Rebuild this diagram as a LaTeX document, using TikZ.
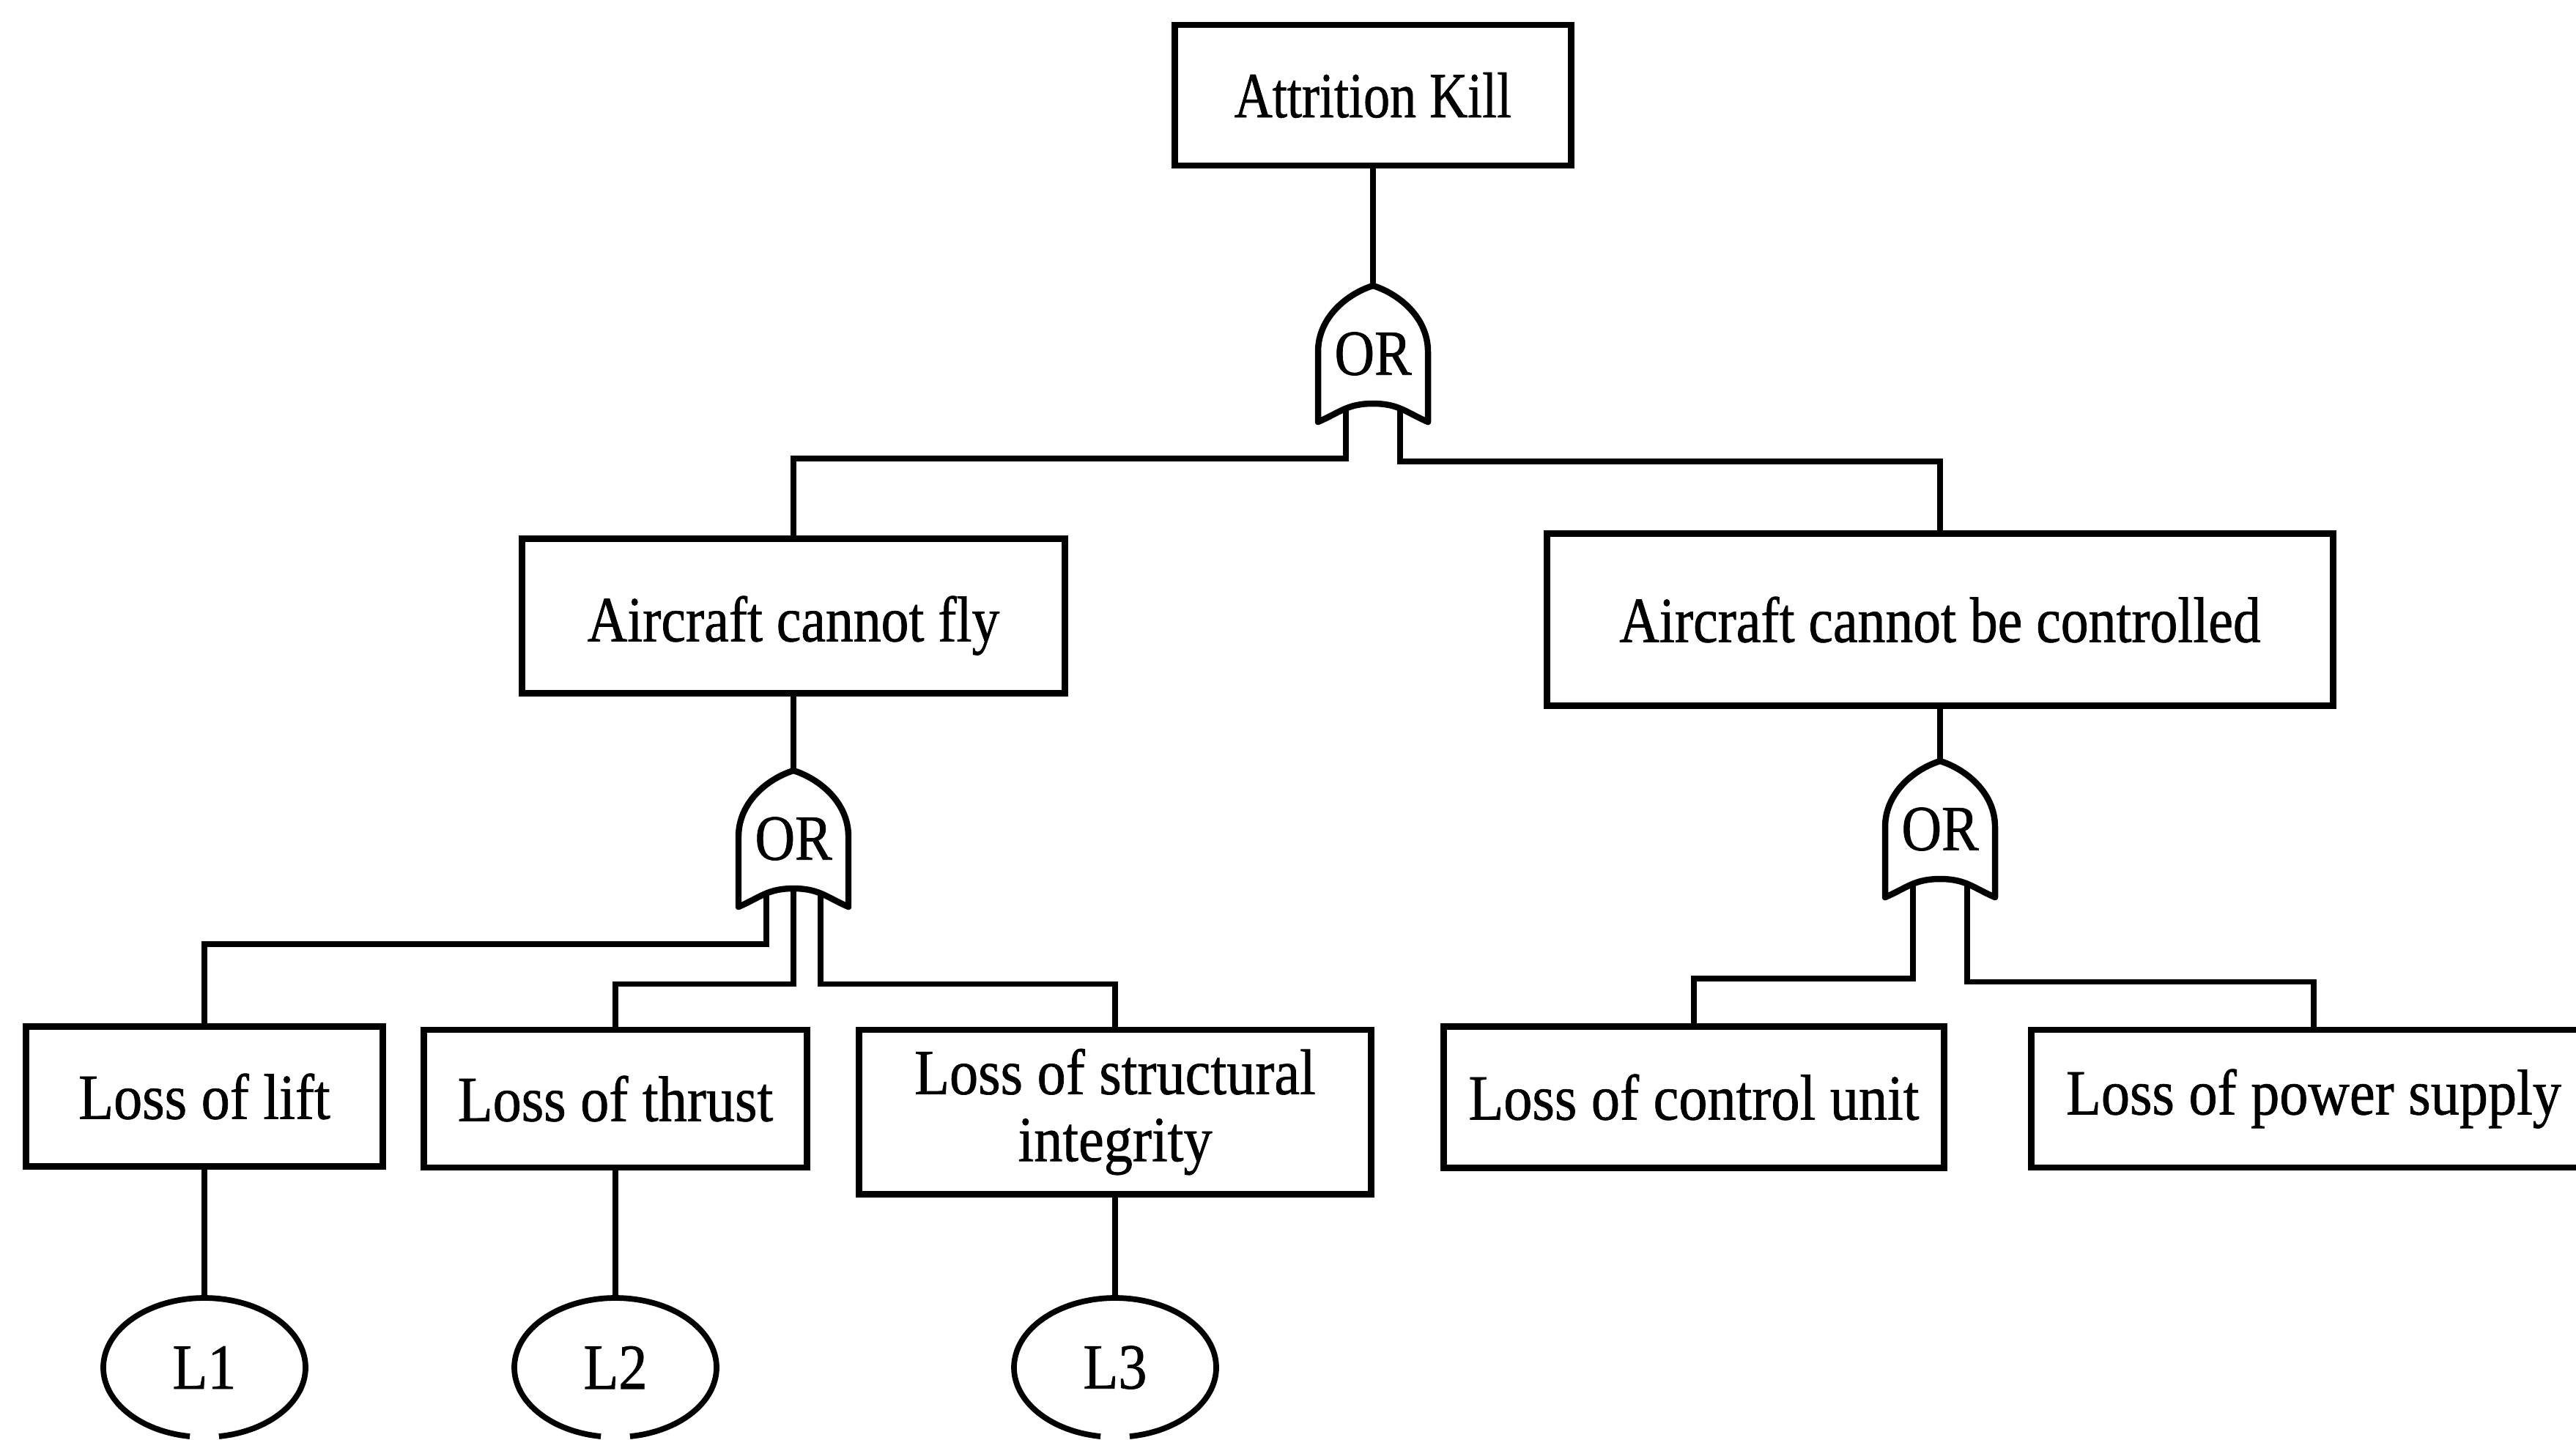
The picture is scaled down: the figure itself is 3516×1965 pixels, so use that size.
\documentclass[tikz,border=0pt]{standalone}
\usepackage{fontspec}
\newfontfamily\gfont[FakeStretch=0.86,FakeBold=0.8]{Liberation Serif}
\newfontfamily\gfontn[FakeStretch=0.82,FakeBold=0.8]{Liberation Serif}
\newfontfamily\gfontw[FakeStretch=0.89,FakeBold=0.8]{Liberation Serif}
\usetikzlibrary{shapes.geometric,calc}
\tikzset{
  lbl/.style={font=\gfont\fontsize{25}{26}\selectfont, align=center, inner sep=0pt},
  lblw/.style={font=\gfontw\fontsize{25}{26}\selectfont},
  evbox/.style={lbl, draw, line width=2.5pt, rectangle},
  gatenode/.style={lbl, rectangle, minimum width=1.5cm, minimum height=1.86cm},
  leafnode/.style={lbl, ellipse, minimum width=2.76cm, minimum height=1.9cm},
  conn/.style={line width=2.2pt},
  gateline/.style={line width=2.4pt, line join=round},
}
\newcommand\orgate[1]{%
  \begin{scope}[shift={(#1.center)}]
    \draw[gateline] (-75,93) -- (-75,-3)
      .. controls (-75,-50) and (-35,-82) .. (0,-93)
      .. controls (35,-82) and (75,-50) .. (75,-3)
      -- (75,93)
      .. controls (45,80) and (35,68) .. (0,68)
      .. controls (-35,68) and (-45,80) .. cycle;
  \end{scope}}
\newcommand\leafring[1]{%
  \draw[conn] ($(#1)+(98.3:138 and 95)$) arc[start angle=98.3, end angle=441.7, x radius=138, y radius=95];}
\begin{document}
\begin{tikzpicture}[x=0.01cm,y=-0.01cm]
\clip (0,0) rectangle (3516,1965);
\fill[white] (0,0) rectangle (3516,1965);

% boxes
\node[evbox, font=\gfontn\fontsize{25}{26}\selectfont, minimum width=5.40cm, minimum height=1.92cm] (att) at (1874,130) {Attrition Kill};
\node[evbox, text height=0.69cm, text depth=0cm, minimum width=7.40cm, minimum height=2.11cm] (acf) at (1083,841) {Aircraft cannot fly};
\node[evbox, minimum width=10.72cm, minimum height=2.35cm] (acbc) at (2648,846) {Aircraft cannot be controlled};
\node[evbox, lblw, minimum width=4.86cm, minimum height=1.91cm] (lift) at (279,1497) {Loss of lift};
\node[evbox, lblw, minimum width=5.22cm, minimum height=1.88cm] (thrust) at (840,1500) {Loss of thrust};
\node[evbox, lblw, minimum width=6.99cm, minimum height=2.24cm] (struct) at (1522,1518) {Loss of structural\\integrity};
\node[evbox, lblw, minimum width=6.82cm, minimum height=1.93cm] (cu) at (2312,1498) {Loss of control unit};
\node[evbox, lblw, minimum width=7.70cm, minimum height=1.88cm] (ps) at (3158,1500) {Loss of power supply};

% gates
\node[gatenode] (g0) at (1874,483) {OR};
\node[gatenode] (g1) at (1083,1145) {OR};
\node[gatenode] (g2) at (2648,1132) {OR};
\orgate{g0}
\orgate{g1}
\orgate{g2}

% leaves
\node[leafnode, lblw] (L1) at (279,1867) {L1};
\node[leafnode, lblw] (L2) at (840,1867) {L2};
\node[leafnode, lblw] (L3) at (1522,1867) {L3};
\leafring{L1}
\leafring{L2}
\leafring{L3}

% connectors
\draw[conn] (att.south) -- (g0.north);
\draw[conn] ($(g0)+(-37,74)$) |- ($(acf.north)+(0,-105)$) -- (acf.north);
\draw[conn] ($(g0)+(37,74)$) |- ($(acbc.north)+(0,-94)$) -- (acbc.north);

\draw[conn] (acf.south) -- (g1.north);
\draw[conn] ($(g1)+(-37,74)$) |- ($(lift.north)+(0,-108)$) -- (lift.north);
\draw[conn] ($(g1)+(0,68)$) |- ($(thrust.north)+(0,-58)$) -- (thrust.north);
\draw[conn] ($(g1)+(37,74)$) |- ($(struct.north)+(0,-58)$) -- (struct.north);

\draw[conn] (acbc.south) -- (g2.north);
\draw[conn] ($(g2)+(-37,74)$) |- ($(cu.north)+(0,-61)$) -- (cu.north);
\draw[conn] ($(g2)+(37,74)$) |- ($(ps.north)+(0,-61)$) -- (ps.north);

\draw[conn] (lift.south) -- (L1.north);
\draw[conn] (thrust.south) -- (L2.north);
\draw[conn] (struct.south) -- (L3.north);
\end{tikzpicture}
\end{document}
